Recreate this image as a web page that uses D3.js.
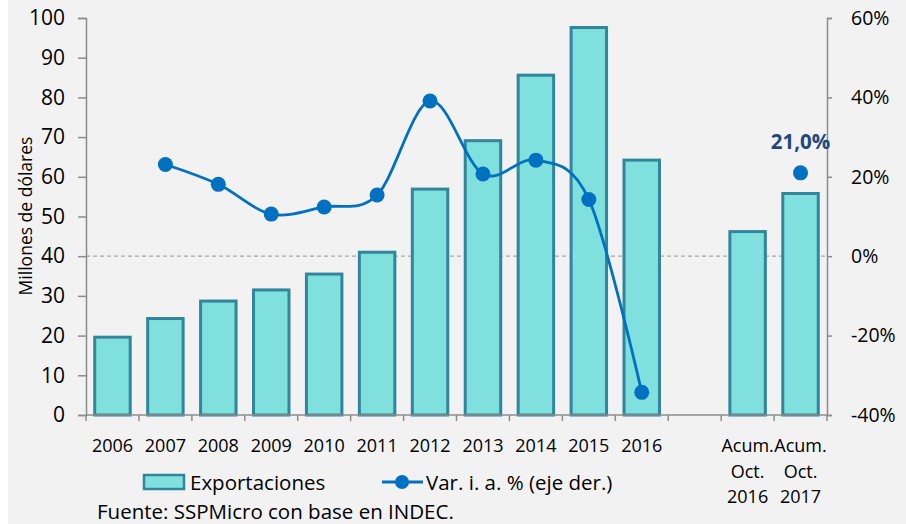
<!DOCTYPE html>
<html>
<head>
<meta charset="utf-8">
<script src="https://cdn.jsdelivr.net/npm/d3@7"></script>
<style>
  body { margin: 0; background: #fff; }
  text { font-family: "Open Sans", sans-serif; fill: #000; }
</style>
</head>
<body>
<div id="chart"></div>
<script>
// Data
const categories = ["2006", "2007", "2008", "2009", "2010", "2011", "2012", "2013", "2014", "2015", "2016", "", "Acum.|Oct.|2016", "Acum.|Oct.|2017"];
const exportaciones = [19.6, 24.3, 28.7, 31.5, 35.5, 41.0, 56.9, 69.1, 85.6, 97.6, 64.2, null, 46.2, 55.8];
const variacion = [null, 23.1, 18.1, 10.6, 12.4, 15.4, 39.1, 20.7, 24.2, 14.3, -34.3, null, null, 21.0];
const leftTicks = [0, 10, 20, 30, 40, 50, 60, 70, 80, 90, 100];
const rightTicks = [-40, -20, 0, 20, 40, 60];
const labelText = "21,0%";

const W = 906, H = 524;
const plot = { left: 86, right: 827, top: 18, bottom: 415 };

const svg = d3.select("#chart").append("svg")
    .attr("width", W)
    .attr("height", H);

// background
svg.append("rect")
    .attr("x", 8).attr("y", 0)
    .attr("width", W - 8).attr("height", H)
    .attr("fill", "#F2F2F2");

const rows = categories.map((c, i) => ({ cat: c, exp: exportaciones[i], v: variacion[i] }));

// scales
const x = d3.scaleBand()
    .domain(categories)
    .range([plot.left, plot.right])
    .paddingInner(0.33)
    .paddingOuter(0.165);

const y = d3.scaleLinear().domain([0, 100]).range([plot.bottom, plot.top]);
const y2 = d3.scaleLinear().domain([-40, 60]).range([plot.bottom, plot.top]);

// zero line of right axis
svg.append("line")
    .attr("x1", plot.left).attr("x2", plot.right)
    .attr("y1", y2(0)).attr("y2", y2(0))
    .attr("stroke", "#A6A6A6")
    .attr("stroke-width", 1.2)
    .attr("stroke-dasharray", "4,3");

// bars
svg.selectAll(".bar")
    .data(rows.filter(d => d.exp != null))
    .enter()
    .append("rect")
    .attr("class", "bar")
    .attr("x", d => x(d.cat))
    .attr("width", x.bandwidth())
    .attr("y", d => y(d.exp))
    .attr("height", d => y(0) - y(d.exp))
    .attr("fill", "#80E0DE")
    .attr("stroke", "#31859C")
    .attr("stroke-width", 3);

// left axis
const gLeft = svg.append("g")
    .attr("transform", `translate(${plot.left},0)`)
    .call(d3.axisLeft(y).tickValues(leftTicks).tickSize(8).tickPadding(13));
gLeft.selectAll("text").style("font-size", "21px");

// right axis
const gRight = svg.append("g")
    .attr("transform", `translate(${plot.right},0)`)
    .call(d3.axisRight(y2).tickValues(rightTicks).tickSize(5).tickPadding(19).tickFormat(d => d + "%"));
gRight.selectAll("text").style("font-size", "19.5px");

// bottom axis line and boundary ticks
const gBottom = svg.append("g");
gBottom.append("line")
    .attr("x1", plot.left).attr("x2", plot.right)
    .attr("y1", plot.bottom).attr("y2", plot.bottom);
gBottom.selectAll(".xtick")
    .data(d3.range(categories.length + 1))
    .enter()
    .append("line")
    .attr("x1", i => plot.left + i * x.step())
    .attr("x2", i => plot.left + i * x.step())
    .attr("y1", plot.bottom)
    .attr("y2", plot.bottom + 6);

[gLeft, gRight, gBottom].forEach(g => {
    g.selectAll("path, line").attr("stroke", "#8C8C8C").attr("stroke-width", 1.5);
});

// category labels
const xl = svg.selectAll(".x-label")
    .data(categories)
    .enter()
    .append("text")
    .attr("class", "x-label")
    .attr("text-anchor", "middle")
    .style("font-size", "18px");
xl.selectAll("tspan")
    .data(c => c.split("|").map(t => ({ t: t, c: c })))
    .enter()
    .append("tspan")
    .attr("x", d => x(d.c) + x.bandwidth() / 2)
    .attr("y", (d, i) => 452 + i * 25.5)
    .text(d => d.t);

// variation line
const line = d3.line()
    .defined(d => d.v != null)
    .x(d => x(d.cat) + x.bandwidth() / 2)
    .y(d => y2(d.v))
    .curve(d3.curveCatmullRom.alpha(0));

svg.append("path")
    .datum(rows)
    .attr("fill", "none")
    .attr("stroke", "#0070C0")
    .attr("stroke-width", 2.8)
    .attr("d", line);

svg.selectAll(".dot")
    .data(rows.filter(d => d.v != null))
    .enter()
    .append("circle")
    .attr("class", "dot")
    .attr("cx", d => x(d.cat) + x.bandwidth() / 2)
    .attr("cy", d => y2(d.v))
    .attr("r", 7.5)
    .attr("fill", "#0070C0");

// data label on the last point
const last = rows[rows.length - 1];
svg.append("text")
    .attr("x", x(last.cat) + x.bandwidth() / 2)
    .attr("y", y2(last.v) - 24)
    .attr("text-anchor", "middle")
    .style("font-size", "20.5px")
    .style("font-weight", "bold")
    .style("fill", "#1F497D")
    .text(labelText);

// y axis title
svg.append("text")
    .attr("transform", "translate(32,216) rotate(-90)")
    .attr("text-anchor", "middle")
    .style("font-size", "17.5px")
    .text("Millones de dólares");

// legend
svg.append("rect")
    .attr("x", 144).attr("y", 475)
    .attr("width", 40).attr("height", 14)
    .attr("fill", "#80E0DE")
    .attr("stroke", "#31859C")
    .attr("stroke-width", 2.5);
svg.append("text")
    .attr("x", 190).attr("y", 490)
    .style("font-size", "20.5px")
    .text("Exportaciones");

svg.append("line")
    .attr("x1", 382).attr("x2", 423)
    .attr("y1", 482).attr("y2", 482)
    .attr("stroke", "#0070C0")
    .attr("stroke-width", 2.8);
svg.append("circle")
    .attr("cx", 402).attr("cy", 482).attr("r", 7)
    .attr("fill", "#0070C0");
svg.append("text")
    .attr("x", 426).attr("y", 490)
    .style("font-size", "20.5px")
    .text("Var. i. a. % (eje der.)");

// source
svg.append("text")
    .attr("x", 97).attr("y", 519)
    .style("font-size", "20.5px")
    .text("Fuente: SSPMicro con base en INDEC.");
</script>
</body>
</html>
